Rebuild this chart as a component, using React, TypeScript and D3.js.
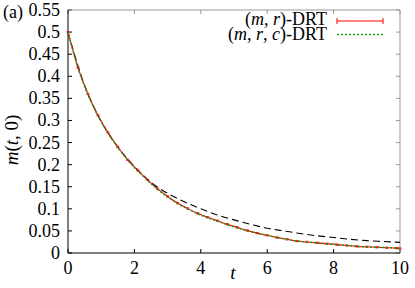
import React from 'react';
import * as d3 from 'd3';

// (m, r)-DRT, red with error bars
const tRed = [0, 0.3, 0.6, 0.9, 1.2, 1.5, 1.8, 2.1, 2.4, 2.7, 3.0, 3.3, 3.6, 3.9, 4.2, 4.5, 4.8, 5.1, 5.4, 5.7, 6.0, 6.3, 6.6, 6.9, 7.2, 7.5, 7.8, 8.1, 8.4, 8.7, 9.0, 9.3, 9.6, 9.9, 10];
const mRed = [0.5, 0.42, 0.36, 0.312, 0.273, 0.24, 0.211, 0.187, 0.165, 0.145, 0.128, 0.113, 0.101, 0.09, 0.081, 0.073, 0.065, 0.058, 0.051, 0.045, 0.04, 0.035, 0.031, 0.027, 0.025, 0.023, 0.021, 0.019, 0.017, 0.015, 0.014, 0.013, 0.012, 0.011, 0.01];
const errRed = 0.0015;

// (m, r, c)-DRT, green dotted
const mGreen = [0.5, 0.419, 0.359, 0.311, 0.272, 0.239, 0.21, 0.186, 0.164, 0.144, 0.127, 0.112, 0.1, 0.089, 0.08, 0.072, 0.064, 0.057, 0.05, 0.045, 0.04, 0.035, 0.031, 0.027, 0.025, 0.023, 0.021, 0.019, 0.017, 0.015, 0.014, 0.013, 0.012, 0.011, 0.01];

// black dashed reference curve
const tRef = [0, 0.5, 1.0, 1.5, 2.0, 2.5, 3.0, 3.5, 4.0, 4.5, 5.0, 5.5, 6.0, 6.5, 7.0, 7.5, 8.0, 8.5, 9.0, 9.5, 10];
const mRef = [0.5, 0.379, 0.298, 0.24, 0.196, 0.16, 0.135, 0.116, 0.1, 0.086, 0.075, 0.065, 0.056, 0.05, 0.044, 0.039, 0.035, 0.031, 0.028, 0.026, 0.024];

const xTicks = [0, 2, 4, 6, 8, 10];
const yTicks = [0, 0.05, 0.1, 0.15, 0.2, 0.25, 0.3, 0.35, 0.4, 0.45, 0.5, 0.55];

const W = 415;
const H = 288;
const left = 68, right = 400, top = 10, bottom = 253;
const FONT = "'Liberation Serif', 'DejaVu Serif', serif";

export default function App() {
  const x = d3.scaleLinear().domain([0, 10]).range([left, right]);
  const y = d3.scaleLinear().domain([0, 0.55]).range([bottom, top]);

  const line = d3.line<[number, number]>().x((d) => x(d[0])).y((d) => y(d[1])).curve(d3.curveMonotoneX);

  const red = tRed.map((t, i) => [t, mRed[i]] as [number, number]);
  const green = tRed.map((t, i) => [t, mGreen[i]] as [number, number]);
  const ref = tRef.map((t, i) => [t, mRef[i]] as [number, number]);

  const gray = '#999';

  return (
    <svg width={W} height={H} style={{ position: 'absolute', left: 0, top: 0, background: '#fff' }} fontFamily={FONT}>
      {/* mirrored ticks */}
      {xTicks.map((t) => (
        <g key={'xt' + t}>
          <line x1={x(t)} x2={x(t)} y1={bottom} y2={bottom - 4} stroke="#000" />
          <line x1={x(t)} x2={x(t)} y1={top} y2={top + 4} stroke={gray} />
          <text x={x(t)} y={274} fontSize={18} textAnchor="middle">{t}</text>
        </g>
      ))}
      {yTicks.map((v) => (
        <g key={'yt' + v}>
          <line x1={left} x2={left + 4} y1={y(v)} y2={y(v)} stroke="#000" />
          <line x1={right} x2={right - 4} y1={y(v)} y2={y(v)} stroke={gray} />
          <text x={60} y={y(v) + 6} fontSize={18} textAnchor="end">{v}</text>
        </g>
      ))}

      {/* border */}
      <line x1={left} x2={right} y1={top} y2={top} stroke={gray} />
      <line x1={right} x2={right} y1={top} y2={bottom} stroke={gray} />
      <line x1={left} x2={left} y1={top} y2={bottom} stroke="#000" />
      <line x1={left} x2={right} y1={bottom} y2={bottom} stroke="#000" />

      {/* curves */}
      <path d={line(ref) ?? ''} fill="none" stroke="#000" strokeWidth={1.1} strokeDasharray="7,4" />
      <path d={line(red) ?? ''} fill="none" stroke="#f00" strokeWidth={1.1} />
      {red.map((d, i) => (
        <g key={'e' + i} stroke="#f00" strokeWidth={0.8}>
          <line x1={x(d[0])} x2={x(d[0])} y1={y(d[1] - errRed)} y2={y(d[1] + errRed)} />
          <line x1={x(d[0]) - 1.5} x2={x(d[0]) + 1.5} y1={y(d[1] - errRed)} y2={y(d[1] - errRed)} />
          <line x1={x(d[0]) - 1.5} x2={x(d[0]) + 1.5} y1={y(d[1] + errRed)} y2={y(d[1] + errRed)} />
        </g>
      ))}
      <path d={line(green) ?? ''} fill="none" stroke="#1a9a1a" strokeWidth={1.5} strokeDasharray="2,2" />

      {/* legend */}
      <text x={327} y={25} fontSize={18} textAnchor="end">
        (<tspan fontStyle="italic">m</tspan>, <tspan fontStyle="italic">r</tspan>)-DRT
      </text>
      <line x1={337} x2={383} y1={21} y2={21} stroke="#f00" strokeWidth={1.1} />
      <line x1={337} x2={337} y1={18} y2={24} stroke="#f00" />
      <line x1={383} x2={383} y1={18} y2={24} stroke="#f00" />
      <text x={327} y={40} fontSize={18} textAnchor="end">
        (<tspan fontStyle="italic">m</tspan>, <tspan fontStyle="italic">r</tspan>, <tspan fontStyle="italic">c</tspan>)-DRT
      </text>
      <line x1={337} x2={383} y1={34.5} y2={34.5} stroke="#1a9a1a" strokeWidth={1.5} strokeDasharray="2,2" />

      {/* labels */}
      <text x={3} y={18} fontSize={18}>(a)</text>
      <text x={233} y={279} fontSize={19} fontStyle="italic" textAnchor="middle">t</text>
      <text transform={`translate(18,140) rotate(-90)`} fontSize={19} textAnchor="middle">
        <tspan fontStyle="italic">m</tspan>(<tspan fontStyle="italic">t</tspan>, 0)
      </text>
    </svg>
  );
}
